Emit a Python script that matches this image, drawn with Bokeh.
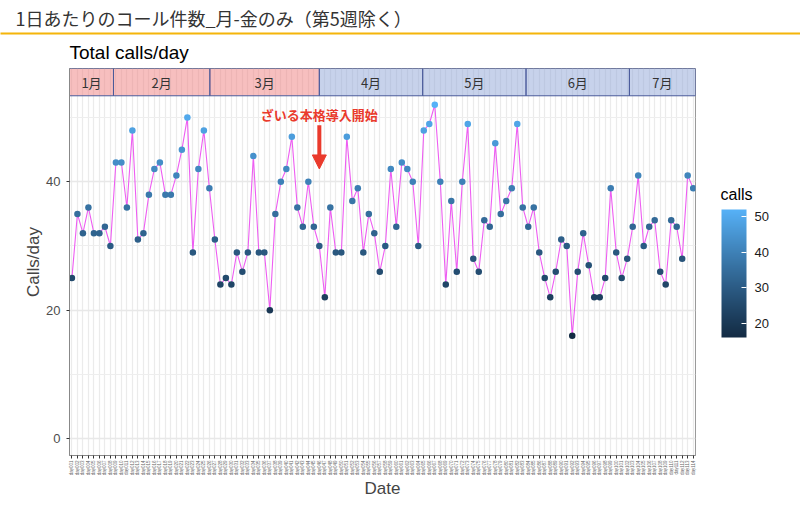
import math
from bokeh.plotting import figure
from bokeh.models import (Range1d, FixedTicker, ColumnDataSource, LinearColorMapper, ColorBar,
                          Arrow, NormalHead, Title)
from bokeh.transform import transform
from bokeh.core.properties import value
from bokeh.embed import file_html
from bokeh.resources import INLINE

# ---------------- data ----------------
calls = [25, 35, 32, 36, 32, 32, 33, 30, 43, 43,
         36, 48, 31, 32, 38, 42, 43, 38, 38, 41,
         45, 50, 29, 42, 48, 39, 31, 24, 25, 24,
         29, 26, 29, 44, 29, 29, 20, 35, 40, 42,
         47, 36, 33, 40, 33, 30, 22, 36, 29, 29,
         47, 37, 39, 29, 35, 32, 26, 30, 42, 33,
         43, 42, 40, 30, 48, 49, 52, 40, 24, 37,
         26, 40, 49, 28, 26, 34, 33, 46, 35, 37,
         39, 49, 36, 33, 36, 29, 25, 22, 26, 31,
         30, 16, 26, 32, 27, 22, 22, 25, 39, 29,
         25, 28, 33, 41, 30, 33, 34, 26, 24, 34,
         33, 28, 41, 39]
day_labels = ["day%03d" % (i + 1) for i in range(len(calls))]
day_index = list(range(len(calls)))

months = ["1月", "2月", "3月", "4月", "5月", "6月", "7月"]
month_start = [-0.44, 7.56, 25.1, 45.0, 63.8, 82.6, 101.4]
month_end = [7.56, 25.1, 45.0, 63.8, 82.6, 101.4, 113.42]
month_group = ["before", "before", "before", "after", "after", "after", "after"]

event_label = "ざいる本格導入開始"
event_index = 45

y_ticks = [0, 20, 40]
y_minor = [10, 30, 50]
cb_ticks = [20, 30, 40, 50]

title_text = "1日あたりのコール件数_月-金のみ（第5週除く）"
subtitle_text = "Total calls/day"
legend_title = "calls"

# ---------------- palette (ggplot default gradient, Lab interpolation) ----------------
def _to_lab(h):
    r, g, b = [int(h[i:i + 2], 16) / 255 for i in (1, 3, 5)]
    lin = lambda c: c / 12.92 if c <= 0.04045 else ((c + 0.055) / 1.055) ** 2.4
    r, g, b = lin(r), lin(g), lin(b)
    X = (0.4124 * r + 0.3576 * g + 0.1805 * b) / 0.95047
    Y = (0.2126 * r + 0.7152 * g + 0.0722 * b)
    Z = (0.0193 * r + 0.1192 * g + 0.9505 * b) / 1.08883
    f = lambda t: t ** (1 / 3) if t > 0.008856 else 7.787 * t + 16 / 116
    fx, fy, fz = f(X), f(Y), f(Z)
    return 116 * fy - 16, 500 * (fx - fy), 200 * (fy - fz)

def _from_lab(L, a, b):
    fy = (L + 16) / 116
    fx = fy + a / 500
    fz = fy - b / 200
    finv = lambda t: t ** 3 if t ** 3 > 0.008856 else (t - 16 / 116) / 7.787
    X, Y, Z = finv(fx) * 0.95047, finv(fy), finv(fz) * 1.08883
    r = 3.2406 * X - 1.5372 * Y - 0.4986 * Z
    g = -0.9689 * X + 1.8758 * Y + 0.0415 * Z
    bb = 0.0557 * X - 0.2040 * Y + 1.0570 * Z
    gam = lambda c: 12.92 * c if c <= 0.0031308 else 1.055 * c ** (1 / 2.4) - 0.055
    out = []
    for c in (r, g, bb):
        c = min(1, max(0, gam(c)))
        out.append(int(round(c * 255)))
    return "#%02x%02x%02x" % tuple(out)

lo, hi = _to_lab("#132B43"), _to_lab("#56B1F7")
palette = [_from_lab(*[lo[k] + (hi[k] - lo[k]) * t / 255 for k in range(3)]) for t in range(256)]

LATIN = "Liberation Sans"
CJK = "Noto Sans CJK JP"
RED = "#EA3A2C"

# ---------------- geometry ----------------
FIG_W, FIG_H = 800, 505
B_LEFT, B_RIGHT, B_TOP, B_BOTTOM = 69, 105, 67, 50
X0, X1 = -0.44, 113.42
Y0, Y1 = -2.64, 57.65

p = figure(width=FIG_W, height=FIG_H, x_range=Range1d(X0, X1), y_range=Range1d(Y0, Y1),
           toolbar_location=None, output_backend="svg",
           min_border_left=B_LEFT, min_border_right=B_RIGHT, min_border_top=B_TOP,
           min_border_bottom=B_BOTTOM)
p.outline_line_color = "#9a9a9a"
p.background_fill_color = "white"

# ---------------- header titles ----------------
p.title.text = title_text
p.title.text_font = CJK
p.title.text_font_size = "18px"
p.title.text_font_style = "normal"
p.title.text_color = "#333333"
p.title.align = "left"
p.title.offset = -54
p.title.standoff = 5
p.add_layout(Title(text=subtitle_text, text_font=LATIN, text_font_size="19px",
                   text_font_style="normal", text_color="#000000", align="left",
                   offset=0, standoff=12), "above")

# orange rule under the header (a one-colour horizontal bar)
rule_mapper = LinearColorMapper(palette=["#F5B50A"], low=0, high=1)
p.add_layout(ColorBar(color_mapper=rule_mapper, orientation="horizontal", location=(-69, 421),
                      width=800, height=2, padding=0, ticker=FixedTicker(ticks=[]),
                      label_standoff=0, major_label_text_font_size="1px",
                      major_tick_line_color=None, minor_tick_line_color=None,
                      bar_line_color=None, background_fill_color=None,
                      border_line_color=None), "center")

# grid
p.xgrid.ticker = FixedTicker(ticks=day_index)
p.xgrid.grid_line_color = "#EBEBEB"
p.xgrid.grid_line_width = 1.2
p.ygrid.ticker = FixedTicker(ticks=y_ticks, minor_ticks=y_minor)
p.ygrid.grid_line_color = "#E8E8E8"
p.ygrid.grid_line_width = 1.5
p.ygrid.minor_grid_line_color = "#EEEEEE"
p.ygrid.minor_grid_line_width = 1.2

# axes
xa = p.xaxis[0]
xa.ticker = FixedTicker(ticks=day_index)
xa.major_label_overrides = {i: lab for i, lab in zip(day_index, day_labels)}
xa.major_label_orientation = math.pi / 2
xa.major_label_text_font_size = "4.5px"
xa.major_label_text_font = LATIN
xa.major_label_text_color = "#666666"
xa.major_label_standoff = 2
xa.major_tick_out = 3
xa.major_tick_in = 0
xa.major_tick_line_color = "#333333"
xa.minor_tick_line_color = None
xa.axis_line_color = "#888888"
xa.axis_label = "Date"
xa.axis_label_text_font = LATIN
xa.axis_label_text_font_size = "17px"
xa.axis_label_text_font_style = "normal"
xa.axis_label_standoff = 1

ya = p.yaxis[0]
ya.ticker = FixedTicker(ticks=y_ticks, minor_ticks=y_minor)
ya.major_label_text_font_size = "13px"
ya.major_label_text_font = LATIN
ya.major_label_text_color = "#4D4D4D"
ya.major_label_standoff = 5
ya.major_tick_out = 3
ya.major_tick_in = 0
ya.major_tick_line_color = "#333333"
ya.minor_tick_line_color = None
ya.axis_line_color = "#888888"
ya.axis_label = "Calls/day"
ya.axis_label_text_font = LATIN
ya.axis_label_text_font_size = "17px"
ya.axis_label_text_font_style = "normal"
ya.axis_label_standoff = 0

# month strips
strip_fill = {"before": "#F08080", "after": "#8FA6D8"}
strip_src = ColumnDataSource(dict(
    left=month_start, right=month_end, name=months,
    fill=[strip_fill[g] for g in month_group],
    mid=[(a + b) / 2 for a, b in zip(month_start, month_end)]))
strip_bottom, strip_top = 53.4, 57.65
p.quad(left="left", right="right", bottom=strip_bottom, top=strip_top, source=strip_src,
       fill_color="fill", fill_alpha=0.5, line_color="#4A5A9A", line_width=1)
p.text(x="mid", y=(strip_bottom + strip_top) / 2, text="name", source=strip_src,
       text_font=value(CJK), text_font_size="13px", text_color="#333333",
       text_align="center", text_baseline="middle")

# data
src = ColumnDataSource(dict(x=day_index, calls=calls, label=day_labels))
mapper = LinearColorMapper(palette=palette, low=min(calls), high=max(calls))
p.line(x="x", y="calls", source=src, line_color="#EE5DF2", line_width=1.1)
p.scatter(x="x", y="calls", source=src, size=6.5, fill_color=transform("calls", mapper),
          line_color=None)

# event annotation
p.text(x=[event_index], y=[50.5], text=[event_label], text_font=value(CJK),
       text_font_size="13px", text_font_style="bold", text_color=RED,
       text_align="center", text_baseline="middle")
p.add_layout(Arrow(end=NormalHead(size=14, fill_color=RED, line_color=RED),
                   x_start=event_index, y_start=48.8, x_end=event_index, y_end=42,
                   line_color=RED, line_width=4))

# colour bar
cb = ColorBar(color_mapper=mapper, location=(652, 118), width=25, height=128, padding=0,
              major_label_text_font=LATIN, major_label_text_font_size="13px",
              major_label_text_color="#1a1a1a", label_standoff=8,
              ticker=FixedTicker(ticks=cb_ticks),
              major_tick_line_color="white", major_tick_in=5, major_tick_out=0,
              minor_tick_line_color=None, bar_line_color=None,
              background_fill_color=None, border_line_color=None)
p.add_layout(cb, "center")

# colour-bar heading ("calls"): title of a transparent horizontal bar
head_mapper = LinearColorMapper(palette=["#ffffff"], low=0, high=1)
p.add_layout(ColorBar(color_mapper=head_mapper, orientation="horizontal", location=(651, 251),
                      width=30, height=1, padding=0, scale_alpha=0, title=legend_title,
                      title_text_font=LATIN, title_text_font_size="16px",
                      title_text_font_style="normal", title_text_color="#000000",
                      title_standoff=1, ticker=FixedTicker(ticks=[]), label_standoff=0,
                      major_label_text_font_size="1px", major_tick_line_color=None,
                      minor_tick_line_color=None, bar_line_color=None,
                      background_fill_color=None, border_line_color=None), "center")

open("out.html", "w").write(file_html(p, INLINE))
